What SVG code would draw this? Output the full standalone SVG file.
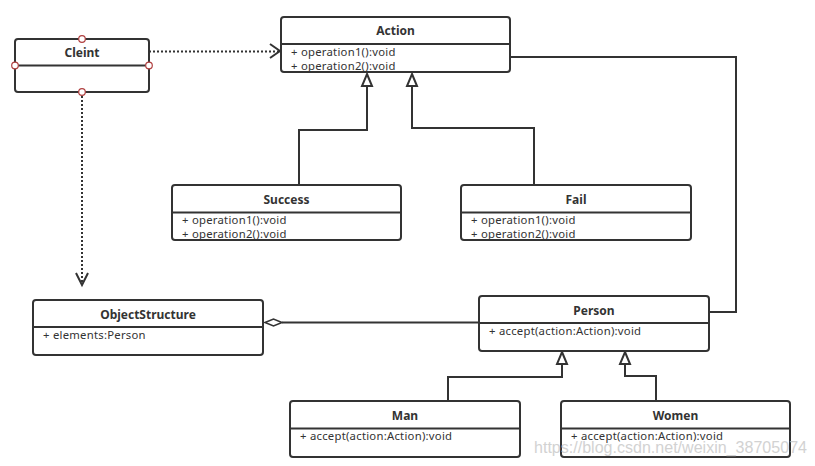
<svg xmlns="http://www.w3.org/2000/svg" width="815" height="466" viewBox="0 0 815 466">
<style>
.box{fill:#fff;stroke:#333;stroke-width:2}
.div{stroke:#333;stroke-width:2}
.title{font-family:"Noto Sans","DejaVu Sans",sans-serif;font-size:12px;font-weight:bold;fill:#333;text-anchor:middle;dominant-baseline:central}
.field{font-family:"Noto Sans","DejaVu Sans",sans-serif;font-size:11.3px;letter-spacing:0.25px;fill:#333}
.line{fill:none;stroke:#333;stroke-width:2}
.dot{fill:none;stroke:#333;stroke-width:2;stroke-dasharray:2 2}
.tri{fill:#fff;stroke:#333;stroke-width:2;stroke-linejoin:miter}
.port{fill:#fff;stroke:#b04040;stroke-width:1.2}
.wm{font-family:"Liberation Sans",Arial,sans-serif;font-size:16px;fill:#c8c8c8;opacity:0.8}
</style>
<rect width="815" height="466" fill="#fff"/>
<g id="connectors">
  <path class="dot" d="M149,51.5 H279"/>
  <path class="line" d="M270,44 L280,51 L270,58"/>
  <path class="dot" d="M82,92 V284"/>
  <path class="line" d="M76,273 L82,285 L88,273"/>
  <path class="line" d="M299,185 V130 H367 V86"/>
  <path class="tri" d="M367,74 L372,86 L362,86 Z"/>
  <path class="line" d="M534,185 V128 H412 V86"/>
  <path class="tri" d="M412,74 L417,86 L407,86 Z"/>
  <path class="line" d="M510,57 H736 V312 H709"/>
  <path class="line" d="M282,322.5 H479"/>
  <path class="tri" d="M265,322.5 L273.5,319 L282,322.5 L273.5,326 Z" style="stroke-width:1.6"/>
  <path class="line" d="M448,401 V377 H562 V364"/>
  <path class="tri" d="M562,352 L567,364 L557,364 Z"/>
  <path class="line" d="M656,401 V376 H625 V364"/>
  <path class="tri" d="M625,352 L630,364 L620,364 Z"/>
</g>
<g id="Cleint">
  <rect class="box" x="15" y="39" width="134" height="53" rx="3"/>
  <line class="div" x1="15" y1="65.5" x2="149" y2="65.5"/>
  <text class="title" x="82" y="52.5">Cleint</text>
  <circle class="port" cx="82" cy="39" r="3.3"/>
  <circle class="port" cx="15" cy="65.5" r="3.3"/>
  <circle class="port" cx="149" cy="65.5" r="3.3"/>
  <circle class="port" cx="82" cy="92" r="3.3"/>
</g>
<g id="Action">
  <rect class="box" x="281" y="17" width="229" height="55" rx="3"/>
  <line class="div" x1="281" y1="44" x2="510" y2="44"/>
  <text class="title" x="395.5" y="30.5">Action</text>
  <text class="field" x="291" y="55.5">+ operation1():void</text>
  <text class="field" x="291" y="69.5">+ operation2():void</text>
</g>
<g id="Success">
  <rect class="box" x="172" y="185" width="229" height="55" rx="3"/>
  <line class="div" x1="172" y1="212.5" x2="401" y2="212.5"/>
  <text class="title" x="286.5" y="199.5">Success</text>
  <text class="field" x="182" y="223.5">+ operation1():void</text>
  <text class="field" x="182" y="237.5">+ operation2():void</text>
</g>
<g id="Fail">
  <rect class="box" x="461" y="185" width="230" height="55" rx="3"/>
  <line class="div" x1="461" y1="212.5" x2="691" y2="212.5"/>
  <text class="title" x="576" y="199.5">Fail</text>
  <text class="field" x="471" y="223.5">+ operation1():void</text>
  <text class="field" x="471" y="237.5">+ operation2():void</text>
</g>
<g id="ObjectStructure">
  <rect class="box" x="33" y="300" width="230" height="55" rx="3"/>
  <line class="div" x1="33" y1="327" x2="263" y2="327"/>
  <text class="title" x="148" y="314">ObjectStructure</text>
  <text class="field" x="43" y="339">+ elements:Person</text>
</g>
<g id="Person">
  <rect class="box" x="479" y="296" width="230" height="55" rx="3"/>
  <line class="div" x1="479" y1="323" x2="709" y2="323"/>
  <text class="title" x="594" y="310">Person</text>
  <text class="field" x="489" y="335">+ accept(action:Action):void</text>
</g>
<g id="Man">
  <rect class="box" x="290" y="401" width="230" height="56" rx="3"/>
  <line class="div" x1="290" y1="428.5" x2="520" y2="428.5"/>
  <text class="title" x="405" y="415.5">Man</text>
  <text class="field" x="300" y="440">+ accept(action:Action):void</text>
</g>
<g id="Women">
  <rect class="box" x="561" y="401" width="229" height="56" rx="3"/>
  <line class="div" x1="561" y1="428.5" x2="790" y2="428.5"/>
  <text class="title" x="675.5" y="415.5">Women</text>
  <text class="field" x="571" y="440">+ accept(action:Action):void</text>
</g>
<text class="wm" x="534" y="453" textLength="273" lengthAdjust="spacingAndGlyphs">https://blog.csdn.net/weixin_38705074</text>
</svg>
